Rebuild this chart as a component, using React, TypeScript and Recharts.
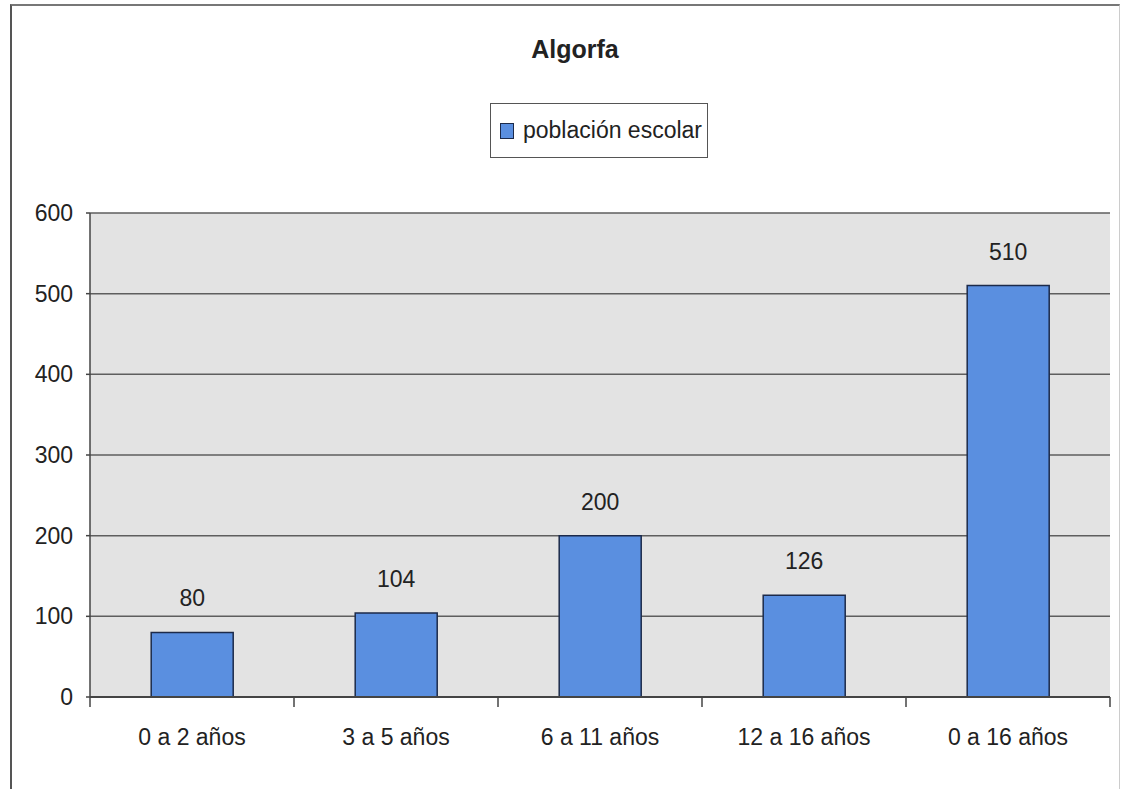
import React from 'react';
import { BarChart, Bar, XAxis, YAxis, CartesianGrid, LabelList } from 'recharts';

const categories = ['0 a 2 años', '3 a 5 años', '6 a 11 años', '12 a 16 años', '0 a 16 años'];
const values = [80, 104, 200, 126, 510];
const yTicks = [0, 100, 200, 300, 400, 500, 600];
const seriesName = 'población escolar';
const title = 'Algorfa';

const data = categories.map((c, i) => ({ name: c, value: values[i] }));

const FONT = '"Liberation Sans", Arial, sans-serif';
const BAR_COLOR = '#5a8fe0';
const W = 1122;
const H = 789;
const PLOT_LEFT = 90;
const PLOT_RIGHT = 1110;
const HALF_BAND = (PLOT_RIGHT - PLOT_LEFT) / categories.length / 2;

const XTick = (props: any) => {
  const { x, y, payload, index } = props;
  const isLast = index === categories.length - 1;
  return (
    <g>
      <line x1={x - HALF_BAND} y1={y} x2={x - HALF_BAND} y2={y + 10} stroke="#444" strokeWidth={1.5} />
      {isLast && <line x1={x + HALF_BAND} y1={y} x2={x + HALF_BAND} y2={y + 10} stroke="#444" strokeWidth={1.5} />}
      <text x={x} y={y + 48} textAnchor="middle" fontSize={23} fill="#222" fontFamily={FONT}>
        {payload.value}
      </text>
    </g>
  );
};

export default function App() {
  return (
    <div style={{ position: 'absolute', left: 0, top: 0, width: W, height: H, background: '#fff', overflow: 'hidden', fontFamily: FONT }}>
      <div
        style={{
          position: 'absolute',
          left: 10,
          top: 4,
          width: 1107,
          height: 820,
          borderLeft: '2px solid #555',
          borderTop: '2px solid #777',
          borderRight: '1px solid #ccc',
        }}
      />
      <div
        style={{
          position: 'absolute',
          left: 0,
          width: 1150,
          top: 34,
          textAlign: 'center',
          fontSize: 25,
          fontWeight: 'bold',
          color: '#222',
          lineHeight: '30px',
        }}
      >
        {title}
      </div>
      <div
        style={{
          position: 'absolute',
          left: 490,
          top: 103,
          width: 218,
          height: 55,
          border: '1.5px solid #555',
          display: 'flex',
          alignItems: 'center',
          boxSizing: 'border-box',
          background: '#fff',
        }}
      >
        <div
          style={{
            width: 12,
            height: 14,
            marginLeft: 9,
            marginRight: 9,
            background: BAR_COLOR,
            border: '1px solid #1c2a4a',
          }}
        />
        <span style={{ fontSize: 23, color: '#222' }}>{seriesName}</span>
      </div>
      <div style={{ position: 'absolute', left: 0, top: 0 }}>
        <BarChart
          width={W}
          height={H}
          data={data}
          margin={{ top: 213, right: W - PLOT_RIGHT, bottom: 32, left: 0 }}
          barCategoryGap="30%"
        >
          <CartesianGrid vertical={false} stroke="#5e5e5e" strokeWidth={1.5} fill="#e3e3e3" />
          <XAxis
            dataKey="name"
            height={60}
            tickLine={false}
            tickSize={0}
            tickMargin={0}
            axisLine={{ stroke: '#444', strokeWidth: 2 }}
            tick={<XTick />}
            interval={0}
          />
          <YAxis
            width={PLOT_LEFT}
            domain={[0, 600]}
            ticks={yTicks}
            tickSize={4}
            tickMargin={13}
            tickLine={{ stroke: '#444', strokeWidth: 1.5 }}
            axisLine={{ stroke: '#444', strokeWidth: 1.5 }}
            tick={{ fontSize: 23, fill: '#222', fontFamily: FONT }}
            interval={0}
          />
          <YAxis
            yAxisId="right"
            orientation="right"
            width={0}
            tick={false}
            tickLine={false}
            axisLine={{ stroke: '#888', strokeWidth: 1.5 }}
          />
          <Bar dataKey="value" fill={BAR_COLOR} stroke="#1c2a4a" strokeWidth={1.5} isAnimationActive={false}>
            <LabelList dataKey="value" position="top" offset={26} fontSize={23} fill="#222" fontFamily={FONT} />
          </Bar>
        </BarChart>
      </div>
    </div>
  );
}
